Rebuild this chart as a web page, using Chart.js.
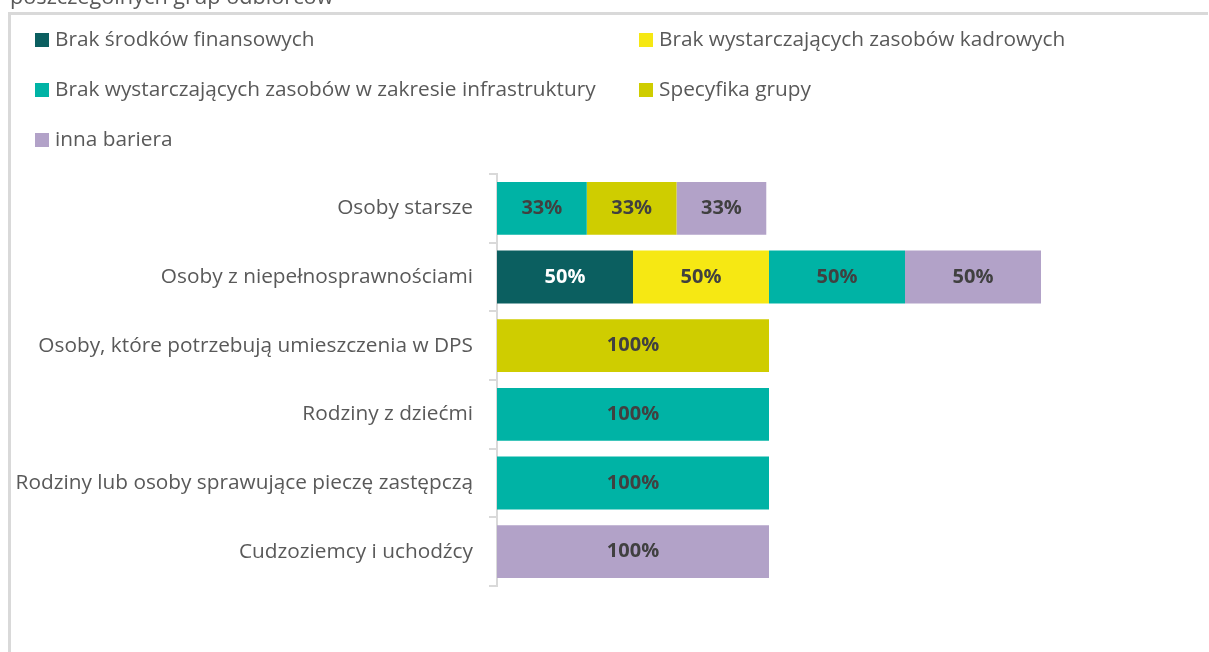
<!DOCTYPE html>
<html lang="pl">
<head>
<meta charset="utf-8">
<title>Bariery w udzielaniu wsparcia</title>
<script src="https://cdn.jsdelivr.net/npm/chart.js@4/dist/chart.umd.min.js"></script>
<style>
  html, body { margin: 0; padding: 0; background: #ffffff; overflow: hidden; }
  #wrap { position: absolute; left: 0; top: 0; width: 1209px; height: 652px; }
</style>
</head>
<body>
<div id="wrap"><canvas id="chart" width="1209" height="652"></canvas></div>
<script>
// Grupy odbiorców (kategorie osi Y)
const categories = [
  'Osoby starsze',
  'Osoby z niepełnosprawnościami',
  'Osoby, które potrzebują umieszczenia w DPS',
  'Rodziny z dziećmi',
  'Rodziny lub osoby sprawujące pieczę zastępczą',
  'Cudzoziemcy i uchodźcy'
];

// Udział wskazań poszczególnych barier (%)
const brakSrodkow      = [null, 50, null, null, null, null];
const brakKadr         = [null, 50, null, null, null, null];
const brakInfrastruktury = [33, 50, null, 100, 100, null];
const specyfikaGrupy   = [33, null, 100, null, null, null];
const innaBariera      = [33, 50, null, null, null, 100];

const seriesNames = [
  'Brak środków finansowych',
  'Brak wystarczających zasobów kadrowych',
  'Brak wystarczających zasobów w zakresie infrastruktury',
  'Specyfika grupy',
  'inna bariera'
];

const titleText = 'poszczególnych grup odbiorców';

const colors = ['#0b5f60', '#f6e813', '#00b3a5', '#cfcd00', '#b2a2c8'];
const labelColors = ['#ffffff', '#404040', '#404040', '#404040', '#404040'];
const FONT = '"Open Sans", Lato, sans-serif';

const seriesValues = [brakSrodkow, brakKadr, brakInfrastruktury, specyfikaGrupy, innaBariera];
const datasets = seriesValues.map((vals, i) => ({
  label: seriesNames[i],
  data: vals,
  backgroundColor: colors[i],
  borderWidth: 0,
  barPercentage: 0.77,
  categoryPercentage: 1.0
}));

// Frame, cut-off title and two-column legend
const decorPlugin = {
  id: 'decor',
  beforeDraw(chart) {
    const ctx = chart.ctx;
    ctx.save();
    ctx.fillStyle = '#ffffff';
    ctx.fillRect(0, 0, chart.width, chart.height);
    ctx.strokeStyle = '#d9d9d9';
    ctx.lineWidth = 3;
    ctx.beginPath();
    ctx.moveTo(9.5, chart.height + 5);
    ctx.lineTo(9.5, 13.5);
    ctx.lineTo(1208, 13.5);
    ctx.stroke();
    ctx.fillStyle = '#595959';
    ctx.font = '21.7px ' + FONT;
    ctx.textBaseline = 'alphabetic';
    ctx.textAlign = 'left';
    ctx.fillText(titleText, 10, 4);
    ctx.restore();
  },
  afterDraw(chart) {
    const ctx = chart.ctx;
    const colX = [35, 639];
    const rowY = [40, 90, 140];
    ctx.save();
    ctx.font = '20.8px ' + FONT;
    ctx.textBaseline = 'middle';
    ctx.textAlign = 'left';
    chart.data.datasets.forEach((ds, i) => {
      const x = colX[i % 2];
      const y = rowY[Math.floor(i / 2)];
      ctx.fillStyle = ds.backgroundColor;
      ctx.fillRect(x, y - 7, 14, 14);
      ctx.fillStyle = '#595959';
      ctx.fillText(ds.label, x + 20, y);
    });
    ctx.restore();
  }
};

// Value labels centred in each bar segment
const valueLabelPlugin = {
  id: 'valueLabels',
  afterDatasetsDraw(chart) {
    const ctx = chart.ctx;
    ctx.save();
    ctx.font = 'bold 20px ' + FONT;
    ctx.textAlign = 'center';
    ctx.textBaseline = 'middle';
    chart.data.datasets.forEach((ds, i) => {
      const meta = chart.getDatasetMeta(i);
      meta.data.forEach((el, j) => {
        const v = ds.data[j];
        if (v === null || v === undefined || v === 0) return;
        const cx = (el.x + el.base) / 2;
        ctx.fillStyle = labelColors[i];
        ctx.fillText(v + '%', cx, el.y);
      });
    });
    ctx.restore();
  }
};

new Chart(document.getElementById('chart'), {
  type: 'bar',
  data: { labels: categories, datasets },
  plugins: [decorPlugin, valueLabelPlugin],
  options: {
    indexAxis: 'y',
    responsive: false,
    animation: false,
    layout: { padding: { top: 174, bottom: 66, left: 0, right: 32 } },
    plugins: {
      legend: { display: false },
      title: { display: false },
      tooltip: { enabled: false }
    },
    scales: {
      x: {
        stacked: true,
        display: false,
        min: 0,
        max: 250
      },
      y: {
        stacked: true,
        afterFit(scale) { scale.width = 497; },
        border: { display: true, color: '#d9d9d9', width: 2 },
        grid: {
          display: true,
          drawOnChartArea: false,
          offset: true,
          tickLength: 8,
          color: '#d9d9d9',
          lineWidth: 2
        },
        ticks: {
          padding: 16,
          color: '#595959',
          font: { family: FONT, size: 20.8 }
        }
      }
    }
  }
});
</script>
</body>
</html>
